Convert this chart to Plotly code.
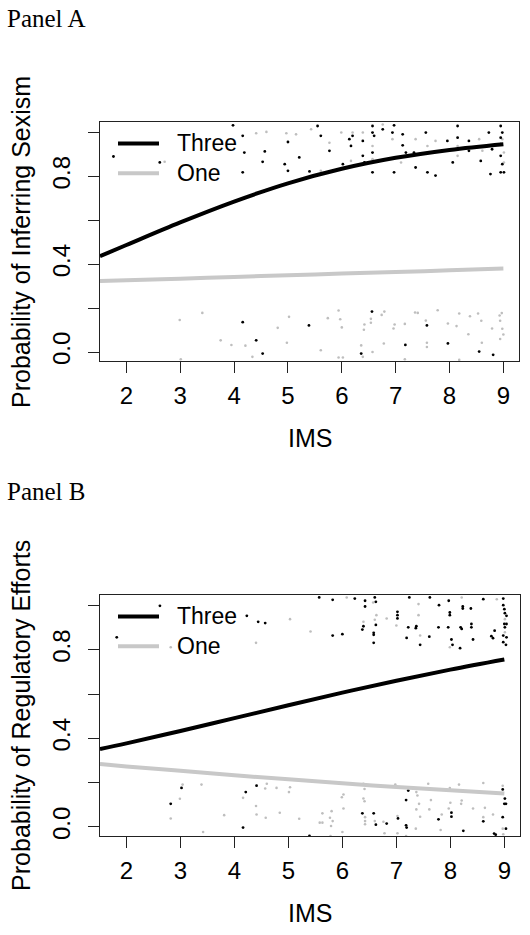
import plotly.graph_objects as go

# ---- data ----
# fitted curves (IMS -> probability)
curveX = [1.51, 2, 3, 4, 5, 6, 7, 8, 9]
sexThree = [0.436, 0.487, 0.590, 0.685, 0.768, 0.834, 0.884, 0.920, 0.946]
sexOne = [0.323, 0.327, 0.334, 0.342, 0.349, 0.357, 0.364, 0.372, 0.380]
regThree = [0.351, 0.377, 0.433, 0.491, 0.549, 0.606, 0.660, 0.710, 0.756]
regOne = [0.284, 0.273, 0.253, 0.233, 0.215, 0.197, 0.180, 0.165, 0.151]

# jittered raw responses, panel A (Three = black, One = gray)
sexThreeX = [1.76, 2.62, 3.98, 4.16, 4.19, 4.16, 4.57, 4.53, 5.0, 4.94, 5.0, 5.21, 5.4, 5.55, 5.61,
             5.77, 6.02, 6.14, 6.2, 6.17, 6.39, 6.39, 6.42, 6.57, 6.57, 6.6, 6.57, 6.57, 6.76, 6.97,
             6.94, 6.97, 7.13, 7.13, 7.19, 7.34, 7.37, 7.56, 7.59, 7.74, 7.96, 8.06, 8.15, 8.15, 8.36,
             8.36, 8.58, 8.73, 8.76, 8.79, 8.95, 8.98, 8.95, 8.95, 8.95, 8.98, 8.95, 9.01,
             4.16, 4.41, 4.53, 5.39, 6.36, 6.56, 7.18, 7.58, 7.97, 8.55, 8.81]
sexThreeY = [0.89, 0.863, 1.032, 0.984, 0.908, 0.818, 0.913, 0.866, 0.956, 0.855, 0.825, 0.886, 0.822,
             1.029, 0.984, 0.916, 0.855, 0.969, 0.984, 0.938, 0.961, 0.893, 0.863, 1.029, 0.999, 0.984,
             0.908, 0.818, 1.014, 1.032, 0.999, 0.818, 0.991, 0.941, 0.908, 0.908, 0.84, 0.999, 0.818,
             0.803, 0.961, 0.863, 1.029, 0.976, 0.961, 0.916, 0.87, 0.999, 0.81, 0.923, 1.029, 0.999,
             0.976, 0.946, 0.893, 0.855, 0.818, 0.818,
             0.136, 0.053, -0.007, 0.121, -0.007, 0.184, 0.032, 0.121, 0.039, 0.002, -0.013]
sexOneX = [2.71, 4.41, 4.6, 4.97, 5.15, 5.43, 5.61, 5.77, 5.99, 6.17, 6.39, 6.57, 6.57, 6.76, 6.94,
           7.1, 7.37, 7.59, 7.74, 8.15, 8.55, 8.61, 8.98, 9.01, 9.01, 8.15, 6.2,
           2.99, 3.41, 3.75, 3.95, 4.21, 4.34, 4.81, 5.02, 4.98, 5.61, 5.74, 5.94, 5.97, 6.0, 5.94,
           6.02, 6.36, 6.42, 6.41, 6.39, 6.54, 6.54, 6.57, 6.74, 6.79, 6.78, 6.96, 6.98, 7.17, 7.17,
           7.36, 7.41, 7.56, 7.58, 7.58, 7.78, 7.97, 8.13, 8.18, 8.35, 8.38, 8.53, 8.59, 8.6, 8.79,
           8.93, 8.97, 8.94, 8.98, 9.0, 8.94, 8.18, 3.01]
sexOneY = [0.866, 0.996, 1.002, 0.996, 0.991, 1.014, 0.825, 0.953, 0.999, 0.87, 0.999, 0.938, 0.878,
           1.036, 0.969, 0.863, 0.969, 0.938, 0.961, 0.938, 0.969, 0.916, 0.969, 0.908, 0.863, 0.893,
           0.999,
           0.146, 0.178, 0.053, 0.032, 0.029, -0.022, 0.11, 0.16, 0.042, 0.008, 0.154, 0.189, 0.149,
           0.112, -0.025, -0.025, 0.03, 0.125, 0.101, -0.022, 0.151, 0.133, 0.0, 0.169, 0.184, 0.039,
           0.107, 0.125, 0.128, -0.033, 0.18, 0.178, 0.143, 0.042, 0.023, 0.19, 0.13, 0.118, 0.175,
           0.081, 0.163, 0.175, 0.142, 0.042, 0.107, 0.166, 0.177, 0.142, 0.106, 0.08, 0.059, -0.036,
           -0.033]

# jittered raw responses, panel B
regThreeX = [2.62, 1.82, 4.23, 4.44, 4.57, 5.57, 5.82, 5.82, 6.0, 6.23, 6.42, 6.42, 6.39, 6.37, 6.6,
             6.62, 6.62, 6.58, 6.58, 6.58, 7.02, 7.02, 7.02, 7.22, 7.37, 7.36, 7.19, 7.44, 7.24, 7.61,
             7.79, 7.97, 7.99, 7.99, 7.78, 7.96, 8.02, 8.04, 8.18, 8.19, 8.21, 8.23, 8.23, 8.38, 8.39,
             8.39, 8.42, 8.61, 8.76, 8.79, 8.82, 8.98, 8.98, 9.0, 9.01, 9.04, 9.0, 9.04, 9.01, 8.98,
             9.04, 8.98, 9.03, 7.62,
             2.82, 3.02, 4.16, 4.21, 4.41, 5.39, 6.37, 6.58, 6.62, 6.82, 7.03, 7.18, 7.22, 7.18, 7.19,
             7.78, 8.02, 8.02, 8.24, 8.61, 8.81, 8.84, 8.97, 9.01, 9.0, 9.03, 8.97, 9.03]
regThreeY = [0.998, 0.856, 0.953, 0.926, 0.92, 1.036, 1.025, 0.864, 0.87, 1.031, 1.021, 0.995, 0.906,
             0.891, 1.036, 1.016, 0.912, 0.876, 0.867, 0.831, 0.971, 0.956, 0.941, 0.901, 0.906, 0.897,
             0.853, 0.822, 1.036, 0.859, 1.001, 1.021, 0.968, 0.956, 0.901, 0.901, 0.846, 0.822, 0.807,
             0.901, 0.894, 0.995, 0.986, 0.986, 0.916, 0.901, 0.846, 1.028, 0.861, 0.852, 0.886, 1.031,
             1.001, 0.983, 0.965, 0.953, 0.916, 0.916, 0.901, 0.864, 0.856, 0.834, 0.822, 1.036,
             0.104, 0.176, -0.003, 0.157, 0.186, -0.041, 0.061, 0.061, 0.01, 0.015, 0.038, 0.121, 0.164,
             0.007, -0.003, 0.034, 0.064, 0.046, -0.018, 0.025, -0.03, -0.035, 0.169, 0.128, 0.104,
             0.104, 0.044, -0.008]
regOneX = [3.15, 2.82, 5.03, 5.41, 4.4, 6.08, 6.39, 6.57, 6.6, 6.82, 7.0, 7.41, 7.41, 7.44, 7.99, 8.21,
           8.86, 9.01, 9.01, 6.63,
           2.82, 2.99, 3.04, 3.39, 3.42, 3.81, 4.16, 4.4, 4.41, 4.57, 4.58, 4.6, 4.78, 4.84, 5.01, 5.03,
           5.2, 5.58, 5.63, 5.63, 5.77, 5.8, 5.79, 5.82, 5.99, 6.02, 6.02, 6.0, 5.78, 6.39, 6.41, 6.39,
           6.41, 6.42, 6.42, 6.42, 6.6, 6.76, 6.78, 6.98, 7.02, 7.02, 7.18, 7.37, 7.39, 7.37, 7.42, 7.44,
           7.36, 7.59, 7.64, 7.61, 7.84, 7.82, 7.99, 8.0, 7.97, 8.16, 8.21, 8.2, 8.42, 8.61, 8.64, 8.61,
           8.79, 8.97, 8.97, 8.98]
regOneY = [0.991, 0.811, 0.938, 0.882, 0.831, 1.036, 0.926, 1.013, 0.935, 0.941, 0.909, 0.956, 1.006,
           0.864, 0.811, 1.036, 1.028, 0.938, 0.879, 0.956,
           0.038, 0.127, 0.191, 0.191, -0.023, 0.053, 0.131, 0.094, 0.056, 0.173, 0.041, 0.195, 0.176,
           0.064, 0.157, 0.179, 0.037, 0.019, 0.019, 0.061, 0.041, 0.071, 0.004, 0.026, 0.134, 0.146,
           0.083, -0.023, -0.041, 0.195, 0.171, 0.128, 0.116, 0.026, 0.012, 0.044, 0.026, 0.023, -0.029,
           0.191, 0.049, -0.029, -0.041, 0.157, 0.142, 0.079, 0.104, 0.046, -0.008, 0.195, 0.121, 0.079,
           0.056, -0.014, 0.175, 0.109, 0.083, 0.191, 0.119, 0.104, 0.083, 0.198, 0.086, 0.044, 0.056,
           0.186, -0.008, -0.033]

xTicks = [2, 3, 4, 5, 6, 7, 8, 9]
yTicks = [0, 0.2, 0.4, 0.6, 0.8, 1.0]
yTickText = ['0.0', '', '0.4', '', '0.8', '']
legendNames = ['Three', 'One']

BLACK = 'black'
GRAY = '#c8c8c8'
W, H = 530, 935
FONT = 'Liberation Sans, Arial, Helvetica, sans-serif'
SERIF = 'Liberation Serif, Times New Roman, serif'
LEG_SIZE = 23

fig = go.Figure()

panels = [
    ('x', 'y', sexThreeX, sexThreeY, sexOneX, sexOneY, sexThree, sexOne),
    ('x2', 'y2', regThreeX, regThreeY, regOneX, regOneY, regThree, regOne),
]
for xa, ya, tx, ty, ox, oy, tc, oc in panels:
    fig.add_trace(go.Scatter(x=ox, y=oy, mode='markers', xaxis=xa, yaxis=ya, showlegend=False,
                             marker=dict(color='#bebebe', size=2.6)))
    fig.add_trace(go.Scatter(x=tx, y=ty, mode='markers', xaxis=xa, yaxis=ya, showlegend=False,
                             marker=dict(color=BLACK, size=2.8)))
    fig.add_trace(go.Scatter(x=curveX, y=tc, mode='lines', xaxis=xa, yaxis=ya, showlegend=False,
                             line=dict(color=BLACK, width=4, shape='spline')))
    fig.add_trace(go.Scatter(x=curveX, y=oc, mode='lines', xaxis=xa, yaxis=ya, showlegend=False,
                             line=dict(color=GRAY, width=4, shape='spline')))

# plot boxes in pixels (left, top, right, bottom)
boxes = [(100, 123, 519, 363), (100, 598, 520, 840)]

def px(v):
    return v / W

def py(v):
    return 1 - v / H

xax = dict(range=[1.51, 9.29], tickvals=xTicks, ticks='outside', ticklen=11, tickwidth=1,
           tickcolor='#222', showline=True, linecolor='#222', linewidth=1, mirror=True,
           showgrid=False, zeroline=False, ticklabelstandoff=2,
           tickfont=dict(family=FONT, size=24, color='black'))
yax = dict(range=[-0.043, 1.045], tickvals=yTicks, ticktext=yTickText, tickangle=-90,
           ticks='outside', ticklen=11, tickwidth=1, tickcolor='#222', showline=True,
           linecolor='#222', linewidth=1, mirror=True, showgrid=False, zeroline=False,
           ticklabelstandoff=8, tickfont=dict(family=FONT, size=24, color='black'))

l, t, r, b = boxes[0]
fig.update_layout(xaxis=dict(xax, domain=[px(l), px(r)], anchor='y'),
                  yaxis=dict(yax, domain=[py(b), py(t)], anchor='x'))
l, t, r, b = boxes[1]
fig.update_layout(xaxis2=dict(xax, domain=[px(l), px(r)], anchor='y2'),
                  yaxis2=dict(yax, domain=[py(b), py(t)], anchor='x2'))

annotations = []
shapes = []
titles = [('Panel A', 'Probability of Inferring Sexism'), ('Panel B', 'Probability of Regulatory Efforts')]
for (l, t, r, b), (panel, ytitle) in zip(boxes, titles):
    annotations.append(dict(text=panel, x=px(5), y=py(t - 104), xref='paper', yref='paper',
                            xanchor='left', yanchor='middle', showarrow=False,
                            font=dict(family=SERIF, size=25, color='black')))
    annotations.append(dict(text=ytitle, x=px(21), y=py((t + b) / 2), xref='paper', yref='paper',
                            xanchor='center', yanchor='middle', textangle=-90, showarrow=False,
                            font=dict(family=FONT, size=25, color='black')))
    annotations.append(dict(text='IMS', x=px((l + r) / 2), y=py(b + 77), xref='paper', yref='paper',
                            xanchor='center', yanchor='middle', showarrow=False,
                            font=dict(family=FONT, size=25, color='black')))
    # legend (no box), top-left inside the plot; one text block, lines beside each row
    mid = t + 36
    step = 1.3 * LEG_SIZE
    for i, col in enumerate([BLACK, GRAY]):
        ly = mid + (i - 0.5) * step
        shapes.append(dict(type='line', xref='paper', yref='paper', x0=px(118), x1=px(159),
                           y0=py(ly), y1=py(ly), line=dict(color=col, width=4)))
    annotations.append(dict(text='<br>'.join(legendNames), x=px(175), y=py(mid), xref='paper',
                            yref='paper', xanchor='left', yanchor='middle', align='left',
                            showarrow=False, font=dict(family=FONT, size=LEG_SIZE, color='black')))

fig.update_layout(
    width=W, height=H,
    margin=dict(l=0, r=0, t=0, b=0),
    paper_bgcolor='white',
    plot_bgcolor='white',
    showlegend=False,
    annotations=annotations,
    shapes=shapes,
)

fig.write_html("out.html", config={'displayModeBar': False},
               post_script="document.body.style.margin='0px';")
